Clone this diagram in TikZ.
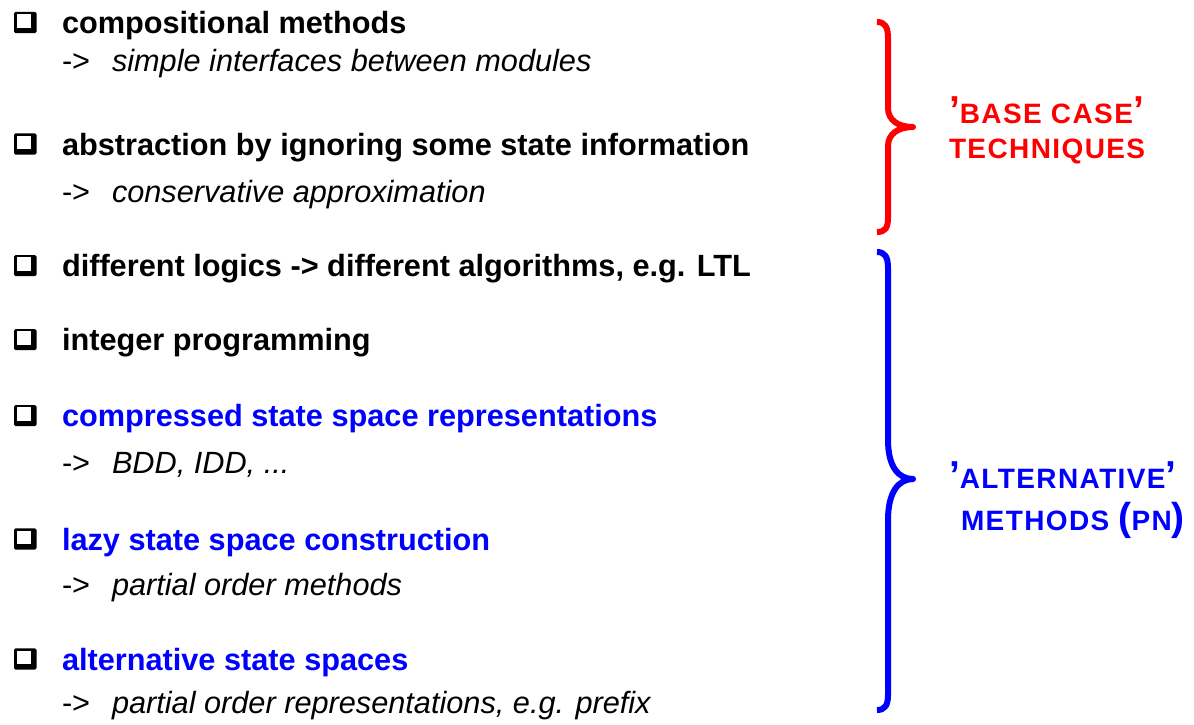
\documentclass[tikz,border=0pt]{standalone}
\usepackage{fontspec}
\setmainfont{Liberation Sans}
\newfontfamily\trackedfont[LetterSpace=5]{Liberation Sans}

\definecolor{hiblue}{RGB}{0,0,255}
\definecolor{hired}{RGB}{255,0,0}

% full-size quote marks and parentheses, reduced tracked capitals
\newcommand{\bq}[1]{{\fontsize{39}{42}\selectfont\bfseries #1}}
\newcommand{\capsrun}[1]{{\trackedfont\bfseries\fontsize{28}{30}\selectfont #1}}

\tikzset{
  base/.style={anchor=base west, inner sep=0pt, outer sep=0pt},
  head/.style={base, font=\fontsize{30.7}{36}\selectfont\bfseries},
  arrowtxt/.style={base, font=\fontsize{30.7}{36}\selectfont},
  sub/.style={base, font=\fontsize{30.7}{36}\selectfont\itshape},
  bracetxt/.style={base},
  brace/.style={line width=6pt, line join=round}
}

\begin{document}
\begin{tikzpicture}[x=1pt, y=-1pt]
\useasboundingbox (0,0) rectangle (1194,724);

% --- check boxes with shadow, one per item baseline ---
\foreach \b in {33.5,155,276.7,350.7,426.7,550,670}{
  \fill[black, rounded corners=1.5pt] (14,\b-21.7) rectangle (36.5,\b-0.5);
  \fill[white] (16.6,\b-19.5) rectangle (31.2,\b-5.6);
}

% --- item list ---
\node[head] (h1) at (62,33.5) {compositional methods};
\node[arrowtxt] (a1) at (62,71) {->};
\node[sub] (s1) at (112,71) {simple interfaces between modules};

\node[head] (h2) at (62,155) {abstraction by ignoring some state information};
\node[arrowtxt] (a2) at (62,202) {->};
\node[sub] (s2) at (112,202) {conservative approximation};

\node[head] (h3) at (62,276.7) {different logics -> different algorithms, e.g. LTL};

\node[head] (h4) at (62,350.7) {integer programming};

\node[head, text=hiblue] (h5) at (62,426.7) {compressed state space representations};
\node[arrowtxt] (a5) at (62,473) {->};
\node[sub] (s5) at (112,473) {BDD, IDD, ...};

\node[head, text=hiblue] (h6) at (62,550) {lazy state space construction};
\node[arrowtxt] (a6) at (62,595) {->};
\node[sub] (s6) at (112,595) {partial order methods};

\node[head, text=hiblue] (h7) at (62,670) {alternative state spaces};
\node[arrowtxt] (a7) at (62,713) {->};
\node[sub] (s7) at (112,713) {partial order representations, e.g. prefix};

% --- upper brace ---
\draw[brace, hired]
  (877,22) .. controls (885,22) and (888,27) .. (888,38)
  -- (888,108) .. controls (888,120) and (898,127) .. (913,127)
  .. controls (898,127) and (888,134) .. (888,146)
  -- (888,218) .. controls (888,228) and (885,232) .. (877,232);
\node[bracetxt, text=hired] (bt1) at (949,123) {\bq{’}\capsrun{BASE CASE}\bq{’}};
\node[bracetxt, text=hired] (bt2) at (949,158) {\capsrun{TECHNIQUES}};

% --- lower brace ---
\draw[brace, hiblue]
  (877,252) .. controls (885,252) and (888,257) .. (888,268)
  -- (888,440) .. controls (888,466) and (898,479) .. (913,479)
  .. controls (898,479) and (888,493) .. (888,520)
  -- (888,695) .. controls (888,705) and (885,710) .. (877,710);
\node[bracetxt, text=hiblue] (bt3) at (949,488) {\bq{’}\capsrun{ALTERNATIVE}\bq{’}};
\node[bracetxt, text=hiblue] (bt4) at (961,530) {\capsrun{METHODS }\bq{(}\capsrun{PN}\bq{)}};
\end{tikzpicture}
\end{document}
